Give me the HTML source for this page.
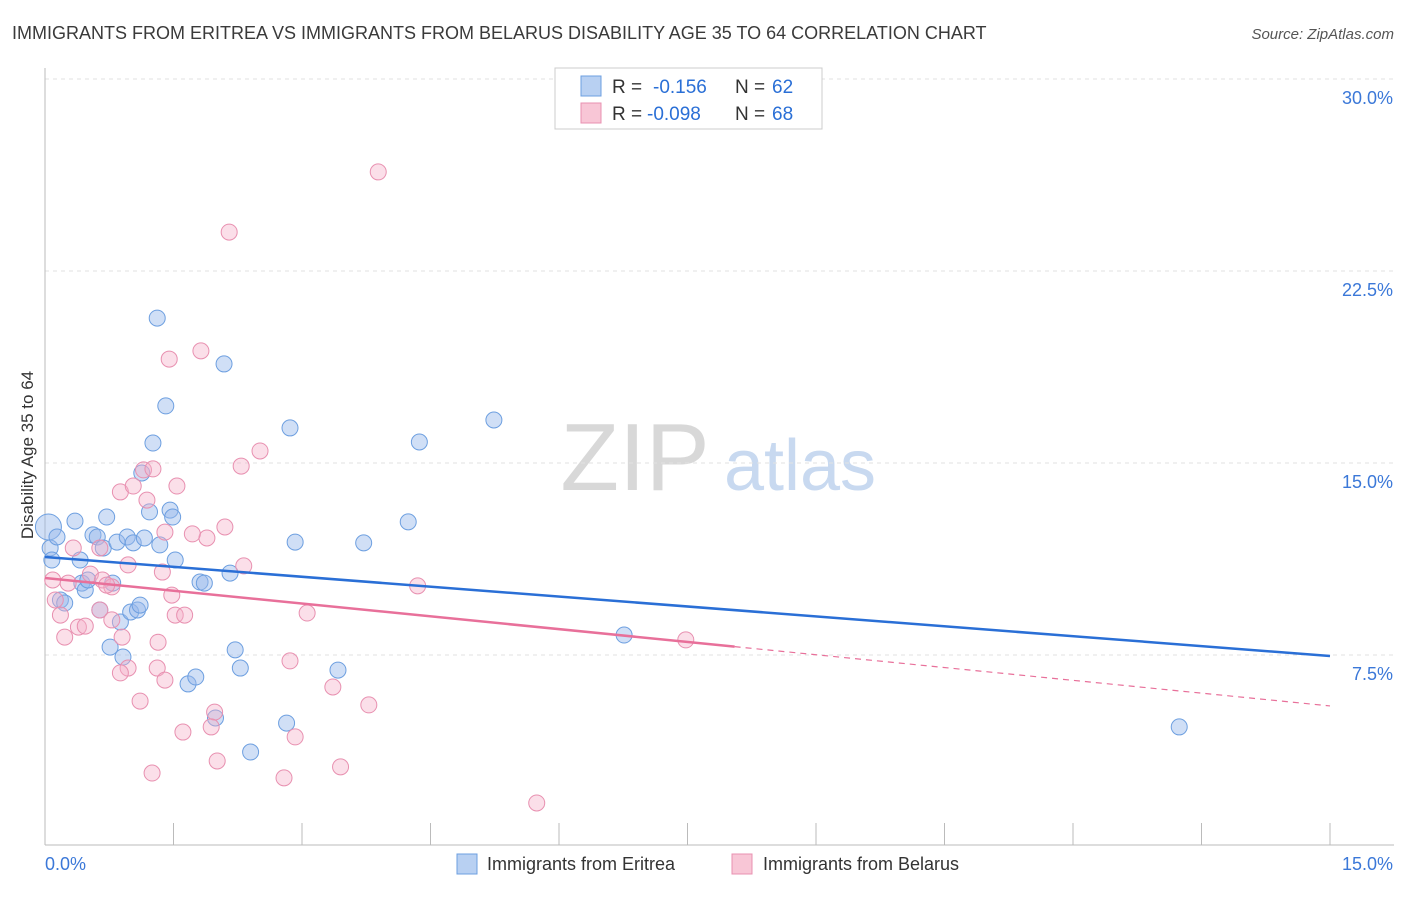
<!DOCTYPE html>
<html><head><meta charset="utf-8"><style>
body{margin:0;background:#fff;font-family:"Liberation Sans",sans-serif;}
svg text{font-family:"Liberation Sans",sans-serif;}
</style></head><body>
<svg id="chart" width="1406" height="892" xmlns="http://www.w3.org/2000/svg">
<text x="12" y="39" font-size="18" fill="#3a3a3a">IMMIGRANTS FROM ERITREA VS IMMIGRANTS FROM BELARUS DISABILITY AGE 35 TO 64 CORRELATION CHART</text>
<text x="1394" y="39" font-size="15" fill="#555" text-anchor="end" font-style="italic">Source: ZipAtlas.com</text>
<g>
<text x="635" y="490" font-size="96" fill="#d8d8d8" text-anchor="middle" font-family="Liberation Serif">ZIP</text>
<text x="800" y="490" font-size="72" fill="#c8d9f0" text-anchor="middle">atlas</text>
</g>
<g id="grid"></g>
<g id="axes"></g>
<g id="pts"></g>
<g id="lines"></g>
<text transform="translate(33,455) rotate(-90)" font-size="17" fill="#333" text-anchor="middle">Disability Age 35 to 64</text>
<g>
<rect x="555" y="68" width="267" height="61" fill="#fff" stroke="#ccc"/>
<rect x="581" y="76" width="20" height="20" fill="#b8d0f2" stroke="#6d9fe0"/>
<rect x="581" y="103" width="20" height="20" fill="#f8c6d6" stroke="#e890b0"/>
<text x="612" y="93" font-size="19" fill="#333">R =</text>
<text x="653" y="93" font-size="19" fill="#2a6fd6">-0.156</text>
<text x="735" y="93" font-size="19" fill="#333">N =</text>
<text x="772" y="93" font-size="19" fill="#2a6fd6">62</text>
<text x="612" y="120" font-size="19" fill="#333">R =</text>
<text x="647" y="120" font-size="19" fill="#2a6fd6">-0.098</text>
<text x="735" y="120" font-size="19" fill="#333">N =</text>
<text x="772" y="120" font-size="19" fill="#2a6fd6">68</text>
</g>
<g>
<rect x="457" y="854" width="20" height="20" fill="#b8d0f2" stroke="#6d9fe0"/>
<text x="487" y="870" font-size="18" fill="#333">Immigrants from Eritrea</text>
<rect x="732" y="854" width="20" height="20" fill="#f8c6d6" stroke="#e890b0"/>
<text x="763" y="870" font-size="18" fill="#333">Immigrants from Belarus</text>
</g>
</svg>
<script>
const yTicks=[7.5,15,22.5,30];
const yTickLabels=["7.5%","15.0%","22.5%","30.0%"];
const xTickCount=10;
const blueX=[0.04,0.06,0.08,0.14,0.18,0.23,0.35,0.41,0.43,0.47,0.5,0.56,0.61,0.64,0.68,0.72,0.76,0.79,0.84,0.88,0.91,0.96,1.0,1.03,1.08,1.11,1.13,1.16,1.22,1.26,1.31,1.34,1.41,1.46,1.49,1.52,1.67,1.76,1.81,1.86,1.99,2.09,2.16,2.22,2.28,2.40,2.82,2.86,2.92,3.42,3.72,4.24,4.37,5.24,6.76,13.24];
const blueY=[12.5,11.68,11.21,12.11,9.65,9.53,12.73,11.21,10.31,10.04,10.43,12.19,12.11,9.26,11.68,12.89,7.81,10.31,11.91,8.79,7.42,12.11,9.18,11.88,9.26,9.45,14.61,12.07,13.09,15.78,20.66,11.8,17.23,13.16,12.89,11.21,6.37,6.64,10.35,10.31,5.04,18.87,10.7,7.7,6.99,3.71,4.84,16.37,11.91,6.91,11.88,12.7,15.82,16.68,8.28,4.69];
const pinkX=[3.89,2.15,1.82,1.45,2.51,2.29,1.15,1.26,0.88,1.03,1.54,1.19,2.10,1.89,1.72,0.33,0.64,1.40,2.32,0.97,1.37,0.09,0.27,0.53,0.67,0.78,4.35,0.12,1.48,3.06,0.64,1.52,1.63,0.18,0.39,0.47,0.78,0.23,0.90,1.32,2.86,1.31,0.97,0.88,1.40,3.36,1.11,3.78,1.98,1.61,1.94,2.92,2.01,3.45,1.25,2.79,5.74,7.48,0.72];
const pinkY=[26.37,24.02,19.38,19.06,15.47,14.88,14.73,14.77,13.87,14.1,14.1,13.55,12.5,12.07,12.23,11.68,11.68,12.3,10.98,11.02,10.74,10.43,10.31,10.66,10.43,10.16,10.2,9.65,9.84,9.14,9.26,9.06,9.06,9.06,8.59,8.63,8.87,8.2,8.2,8.0,7.27,6.99,6.99,6.8,6.52,6.25,5.7,5.55,5.27,4.49,4.69,4.3,3.36,3.13,2.89,2.7,1.72,8.09,10.23];
const blueTrend=[11.33,7.46];
const pinkTrend=[10.51,5.51];
const pinkSolidEnd=8.05;
const X0=45,X1=1330,Y0=847,PPU=192/7.5;
const sx=v=>X0+(v/15)*(X1-X0);
const sy=v=>Y0-v*PPU;
const NS="http://www.w3.org/2000/svg";
function mk(tag,parent,attrs){const e=document.createElementNS(NS,tag);for(const k in attrs)e.setAttribute(k,attrs[k]);parent.appendChild(e);return e;}
const grid=document.getElementById('grid'),axes=document.getElementById('axes'),pts=document.getElementById('pts'),lines=document.getElementById('lines');
yTicks.forEach((t,i)=>{
 const l=mk('line',grid,{x1:X0,x2:1394,y1:sy(t),y2:sy(t),stroke:'#e2e2e2','stroke-dasharray':'4,4'});
 
 
 const tx=mk('text',axes,{x:1393,y:sy(t)+25,'font-size':18,fill:'#3b78d8','text-anchor':'end'});
 tx.textContent=yTickLabels[i];
 
 
});
const ax=mk('line',axes,{x1:X0,x2:1394,y1:845,y2:845,stroke:'#bbb'});


const ay=mk('line',axes,{x1:X0,x2:X0,y1:68,y2:845,stroke:'#bbb'});


for(let i=0;i<=xTickCount;i++){
 const x=sx(15*i/xTickCount);
 const t=mk('line',axes,{x1:x,x2:x,y1:823,y2:845,stroke:'#bbb'});
 
 
}
const xl0=mk('text',axes,{x:45,y:870,'font-size':18,fill:'#3b78d8'});xl0.textContent='0.0%';


const xl1=mk('text',axes,{x:1393,y:870,'font-size':18,fill:'#3b78d8','text-anchor':'end'});xl1.textContent='15.0%';


blueX.forEach((v,i)=>{
 const c=mk('circle',pts,{cx:sx(v),cy:sy(blueY[i]),r:i==0?13:8,fill:'rgba(150,185,235,0.45)',stroke:'#6d9fe0','stroke-width':1});
 
 
});
pinkX.forEach((v,i)=>{
 const c=mk('circle',pts,{cx:sx(v),cy:sy(pinkY[i]),r:8,fill:'rgba(245,175,200,0.4)',stroke:'#e890b0','stroke-width':1});
 
 
});
const bl=mk('line',lines,{x1:sx(0),y1:sy(blueTrend[0]),x2:sx(15),y2:sy(blueTrend[1]),stroke:'#2a6fd6','stroke-width':2.5});


const pyAt=x=>pinkTrend[0]+(pinkTrend[1]-pinkTrend[0])*x/15;
const pl=mk('line',lines,{x1:sx(0),y1:sy(pinkTrend[0]),x2:sx(pinkSolidEnd),y2:sy(pyAt(pinkSolidEnd)),stroke:'#e8709a','stroke-width':2.5});


const pd=mk('line',lines,{x1:sx(pinkSolidEnd),y1:sy(pyAt(pinkSolidEnd)),x2:sx(15),y2:sy(pinkTrend[1]),stroke:'#e8709a','stroke-width':1.2,'stroke-dasharray':'6,5'});


</script>
</body></html>
